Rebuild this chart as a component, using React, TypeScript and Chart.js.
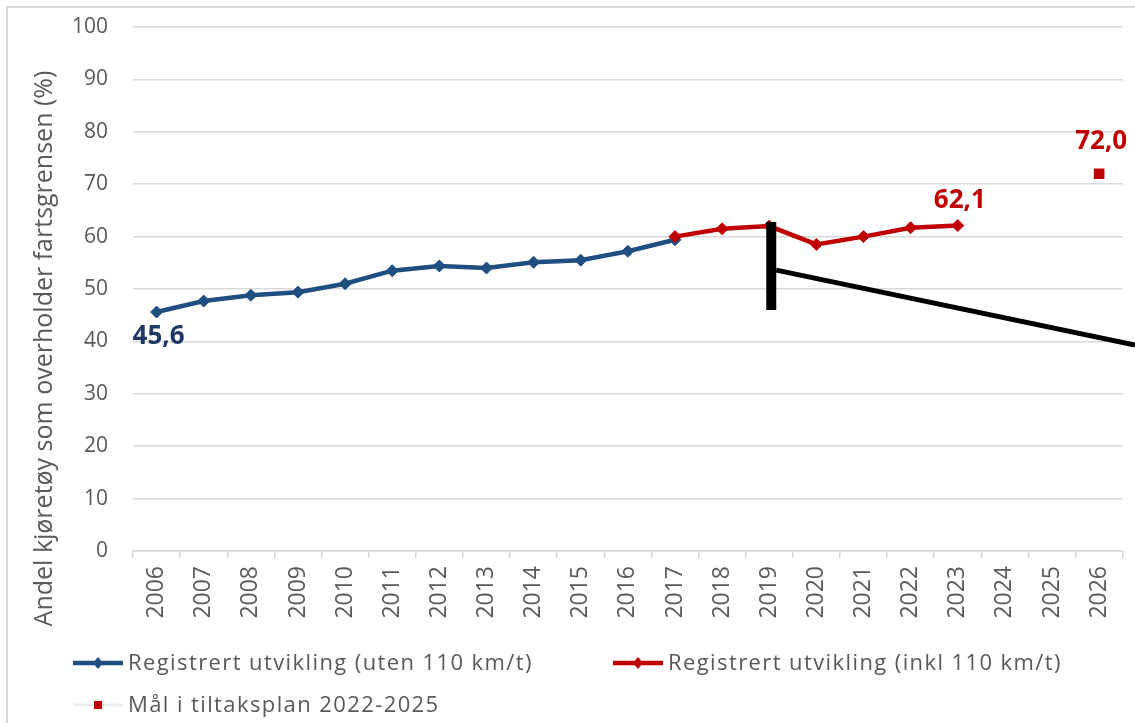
import React, { useEffect, useRef } from "react";
import { Chart, registerables } from "chart.js";

Chart.register(...registerables);

const years = [
  "2006", "2007", "2008", "2009", "2010", "2011", "2012", "2013", "2014", "2015",
  "2016", "2017", "2018", "2019", "2020", "2021", "2022", "2023", "2024", "2025", "2026",
];

const utenValues: (number | null)[] = [
  45.6, 47.7, 48.8, 49.4, 51.0, 53.5, 54.4, 54.0, 55.1, 55.5, 57.2, 59.4,
  null, null, null, null, null, null, null, null, null,
];

const inklValues: (number | null)[] = [
  null, null, null, null, null, null, null, null, null, null, null,
  60.0, 61.5, 62.0, 58.5, 60.0, 61.7, 62.1,
  null, null, null,
];

const maalValues: (number | null)[] = [
  null, null, null, null, null, null, null, null, null, null, null,
  null, null, null, null, null, null, null, null, null, 72.0,
];

const yTicks = [0, 10, 20, 30, 40, 50, 60, 70, 80, 90, 100];

const seriesLabels = [
  "Registrert utvikling (uten 110 km/t)",
  "Registrert utvikling (inkl 110 km/t)",
  "Mål i tiltaksplan 2022-2025",
];

const yTitle = "Andel kjøretøy som overholder fartsgrensen (%)";

// annotation: vertical bar at 2019 and a diagonal pointer line
const annotationBar = { index: 13, from: 62.8, to: 46.0 };
const annotationLine = { from: 53.6, to: 39.3 };

const BLUE = "#1F4E80";
const RED = "#C00000";
const GREY_TEXT = "#595959";
const GRID = "#d9d9d9";
const FONT = "'Open Sans', 'DejaVu Sans', sans-serif";

const fmt = (v: number) => v.toFixed(1).replace(".", ",");

export default function App() {
  const canvasRef = useRef<HTMLCanvasElement | null>(null);

  useEffect(() => {
    const canvas = canvasRef.current;
    if (!canvas) return;

    const decorPlugin = {
      id: "decor",
      beforeDraw(chart: any) {
        const ctx = chart.ctx;
        ctx.save();
        ctx.strokeStyle = GRID;
        ctx.lineWidth = 2;
        ctx.beginPath();
        ctx.moveTo(6, 7);
        ctx.lineTo(chart.width, 7);
        ctx.moveTo(7, 6);
        ctx.lineTo(7, chart.height);
        ctx.stroke();
        ctx.restore();
      },
      afterDraw(chart: any) {
        const ctx = chart.ctx;
        const xs = chart.scales.x;
        const ys = chart.scales.y;
        const area = chart.chartArea;

        // y axis title
        ctx.save();
        ctx.font = `25px ${FONT}`;
        ctx.fillStyle = GREY_TEXT;
        ctx.textAlign = "center";
        ctx.textBaseline = "middle";
        ctx.translate(45, (area.top + xs.bottom) / 2 + 22);
        ctx.rotate(-Math.PI / 2);
        ctx.fillText(yTitle, 0, 0);
        ctx.restore();

        // data labels
        const labelSpecs = [
          { ds: 0, idx: 0, dy: 25, color: "#1F3864" },
          { ds: 1, idx: 17, dy: -25, color: RED },
          { ds: 2, idx: 20, dy: -32, color: RED },
        ];
        ctx.save();
        ctx.font = `bold 26px ${FONT}`;
        ctx.textAlign = "center";
        ctx.textBaseline = "middle";
        for (const s of labelSpecs) {
          const meta = chart.getDatasetMeta(s.ds);
          const el = meta.data[s.idx];
          const v = chart.data.datasets[s.ds].data[s.idx];
          if (!el || v == null) continue;
          ctx.fillStyle = s.color;
          ctx.fillText(fmt(v), el.x + 2, el.y + s.dy);
        }
        ctx.restore();

        // annotation
        ctx.save();
        ctx.strokeStyle = "#000";
        ctx.lineCap = "butt";
        const bx = xs.getPixelForValue(annotationBar.index) + 2;
        ctx.lineWidth = 10;
        ctx.beginPath();
        ctx.moveTo(bx, ys.getPixelForValue(annotationBar.from));
        ctx.lineTo(bx, ys.getPixelForValue(annotationBar.to));
        ctx.stroke();
        ctx.lineWidth = 5;
        ctx.beginPath();
        ctx.moveTo(bx + 5, ys.getPixelForValue(annotationLine.from));
        ctx.lineTo(chart.width, ys.getPixelForValue(annotationLine.to));
        ctx.stroke();
        ctx.restore();

        // legend
        const legendItems = [
          { x: 73, y: 663, line: BLUE, lineW: 4.5, marker: "diamond", color: BLUE, label: seriesLabels[0] },
          { x: 613, y: 663, line: RED, lineW: 4.5, marker: "diamond", color: RED, label: seriesLabels[1] },
          { x: 73, y: 705, line: "#eeeeee", lineW: 3, marker: "square", color: RED, label: seriesLabels[2] },
        ];
        ctx.save();
        ctx.font = `22px ${FONT}`;
        ctx.textBaseline = "middle";
        ctx.textAlign = "left";
        (ctx as any).letterSpacing = "1.4px";
        for (const it of legendItems) {
          ctx.strokeStyle = it.line;
          ctx.lineWidth = it.lineW;
          ctx.beginPath();
          ctx.moveTo(it.x, it.y);
          ctx.lineTo(it.x + 50, it.y);
          ctx.stroke();
          const cx = it.x + 25;
          ctx.fillStyle = it.color;
          if (it.marker === "diamond") {
            ctx.beginPath();
            ctx.moveTo(cx, it.y - 6);
            ctx.lineTo(cx + 5, it.y);
            ctx.lineTo(cx, it.y + 6);
            ctx.lineTo(cx - 5, it.y);
            ctx.closePath();
            ctx.fill();
          } else {
            ctx.fillRect(cx - 4, it.y - 4, 8, 8);
          }
          ctx.fillStyle = GREY_TEXT;
          ctx.fillText(it.label, it.x + 55, it.y + 1);
        }
        ctx.restore();
      },
    };

    const chart = new Chart(canvas, {
      type: "line",
      data: {
        labels: years,
        datasets: [
          {
            label: seriesLabels[0],
            data: utenValues,
            borderColor: BLUE,
            backgroundColor: BLUE,
            borderWidth: 4.5,
            pointStyle: "rectRot",
            pointRadius: 6,
            pointBorderWidth: 1,
            spanGaps: false,
            order: 2,
          },
          {
            label: seriesLabels[1],
            data: inklValues,
            borderColor: RED,
            backgroundColor: RED,
            borderWidth: 4.5,
            pointStyle: "rectRot",
            pointRadius: 6,
            pointBorderWidth: 1,
            spanGaps: false,
            order: 1,
          },
          {
            label: seriesLabels[2],
            data: maalValues,
            borderColor: RED,
            backgroundColor: RED,
            showLine: false,
            pointStyle: "rect",
            pointRadius: 7.5,
            pointBorderWidth: 0,
            order: 0,
          },
        ],
      },
      options: {
        animation: false,
        responsive: false,
        devicePixelRatio: 1,
        layout: { padding: { left: 60, top: 27, right: 10, bottom: 97 } },
        plugins: {
          legend: { display: false },
          tooltip: { enabled: false },
          title: { display: false },
        },
        scales: {
          x: {
            type: "category",
            offset: true,
            afterFit: (scale: any) => {
              scale.height = 75;
            },
            grid: {
              offset: true,
              drawOnChartArea: false,
              drawTicks: true,
              tickLength: 7,
              color: GRID,
              lineWidth: 1.5,
            },
            border: { display: true, color: GRID, width: 1.5 },
            ticks: {
              autoSkip: false,
              minRotation: 90,
              maxRotation: 90,
              padding: 8,
              color: GREY_TEXT,
              font: { family: FONT, size: 23 },
            },
          },
          y: {
            min: 0,
            max: 100,
            afterFit: (scale: any) => {
              scale.width = 73;
              scale.paddingTop = 0;
              scale.paddingBottom = 0;
            },
            afterBuildTicks: (scale: any) => {
              scale.ticks = yTicks.map((v) => ({ value: v }));
            },
            grid: { color: GRID, lineWidth: 1.5, drawTicks: false },
            border: { display: false },
            ticks: {
              padding: 25,
              color: GREY_TEXT,
              font: { family: FONT, size: 21 },
            },
          },
        },
      },
      plugins: [decorPlugin],
    } as any);

    return () => chart.destroy();
  }, []);

  return (
    <div style={{ position: "absolute", left: 0, top: 0, width: 1135, height: 723, background: "#fff" }}>
      <canvas ref={canvasRef} width={1135} height={723} style={{ display: "block", width: 1135, height: 723 }} />
    </div>
  );
}
